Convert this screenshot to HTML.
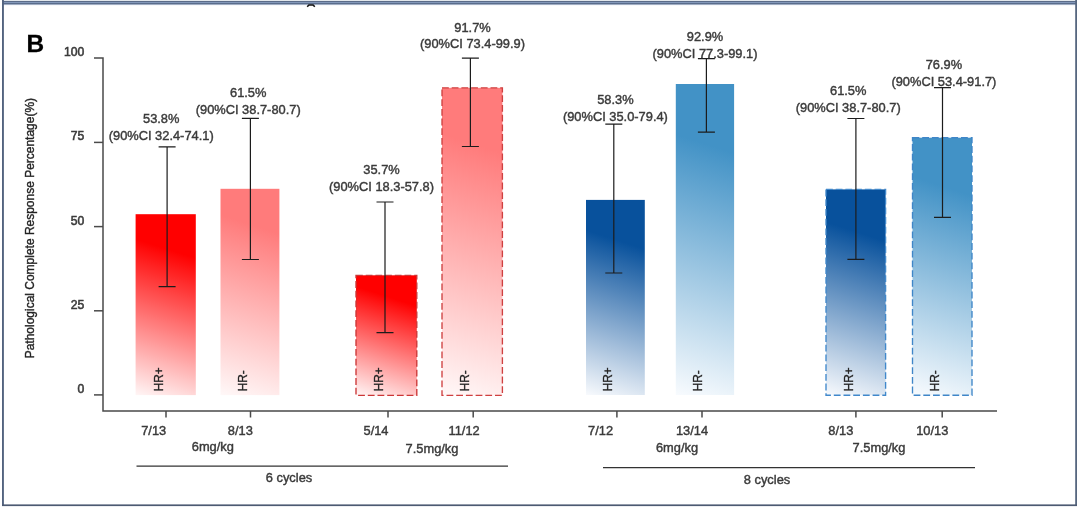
<!DOCTYPE html>
<html><head><meta charset="utf-8"><title>Chart</title>
<style>
html,body{margin:0;padding:0;background:#fff;}
body{width:1080px;height:512px;overflow:hidden;}
svg{display:block;font-family:"Liberation Sans",sans-serif;}
text{stroke:#3a3a3a;stroke-width:0.42px;paint-order:stroke;}
</style></head><body>
<svg width="1080" height="512" viewBox="0 0 1080 512">
<defs><linearGradient id="g0" gradientUnits="userSpaceOnUse" x1="195.16" y1="213.99" x2="136.24" y2="395.31"><stop offset="0" stop-color="#ff0000"/><stop offset="0.22" stop-color="#ff0000"/><stop offset="1" stop-color="#fff6f6"/></linearGradient><linearGradient id="g1" gradientUnits="userSpaceOnUse" x1="283.08" y1="189.99" x2="216.82" y2="393.91"><stop offset="0" stop-color="#ff7b7b"/><stop offset="0.2" stop-color="#ff7b7b"/><stop offset="1" stop-color="#fff8f8"/></linearGradient><linearGradient id="g2" gradientUnits="userSpaceOnUse" x1="406.95" y1="272.10" x2="365.85" y2="398.60"><stop offset="0" stop-color="#ff0000"/><stop offset="0.22" stop-color="#ff0000"/><stop offset="1" stop-color="#fff6f6"/></linearGradient><linearGradient id="g3" gradientUnits="userSpaceOnUse" x1="520.28" y1="93.61" x2="424.12" y2="389.59"><stop offset="0" stop-color="#ff7b7b"/><stop offset="0.2" stop-color="#ff7b7b"/><stop offset="1" stop-color="#fff8f8"/></linearGradient><linearGradient id="g4" gradientUnits="userSpaceOnUse" x1="646.88" y1="200.57" x2="583.92" y2="394.33"><stop offset="0" stop-color="#08519c"/><stop offset="0.23" stop-color="#08519c"/><stop offset="1" stop-color="#f8fafd"/></linearGradient><linearGradient id="g5" gradientUnits="userSpaceOnUse" x1="753.43" y1="90.28" x2="656.47" y2="388.72"><stop offset="0" stop-color="#4292c6"/><stop offset="0.21" stop-color="#4292c6"/><stop offset="1" stop-color="#f8fbfe"/></linearGradient><linearGradient id="g6" gradientUnits="userSpaceOnUse" x1="888.89" y1="190.47" x2="822.71" y2="394.13"><stop offset="0" stop-color="#08519c"/><stop offset="0.23" stop-color="#08519c"/><stop offset="1" stop-color="#f8fafd"/></linearGradient><linearGradient id="g7" gradientUnits="userSpaceOnUse" x1="982.93" y1="141.25" x2="901.57" y2="391.65"><stop offset="0" stop-color="#4292c6"/><stop offset="0.21" stop-color="#4292c6"/><stop offset="1" stop-color="#f8fbfe"/></linearGradient><filter id="soft" x="0" y="0" width="1080" height="512" filterUnits="userSpaceOnUse" color-interpolation-filters="sRGB"><feGaussianBlur stdDeviation="0.45"/></filter></defs>
<rect width="1080" height="512" fill="#ffffff"/>

<rect x="2" y="0.9" width="1075" height="3.7" fill="#8398ba"/>
<rect x="2" y="0.9" width="1075" height="1.1" fill="#5b6c89"/>
<rect x="2" y="3.0" width="1075" height="1.5" fill="#5a6d8c"/>
<rect x="2" y="4.5" width="1075" height="0.6" fill="#b9c4d6"/>
<rect x="2.0" y="0" width="1.9" height="506" fill="#53637f"/>
<rect x="1075.2" y="0" width="1.8" height="506" fill="#56667f"/>
<rect x="2.0" y="504.4" width="1075" height="1.7" fill="#4c5a72"/>
<path d="M307.2 6.7 L308.8 5.1 H313.2 L314.8 6.7" stroke="#111" stroke-width="1.5" fill="none" stroke-linejoin="round"/>

<g filter="url(#soft)">
<rect x="135.60" y="214.20" width="60.20" height="180.90" fill="url(#g0)"/><rect x="220.50" y="188.80" width="58.90" height="206.30" fill="url(#g1)"/><rect x="356.00" y="275.30" width="60.80" height="120.10" fill="url(#g2)" stroke="#cc3636" stroke-width="1.35" stroke-dasharray="6.8 2.9"/><rect x="442.00" y="87.80" width="60.40" height="307.60" fill="url(#g3)" stroke="#cf4040" stroke-width="1.35" stroke-dasharray="6.8 2.9"/><rect x="586.00" y="199.90" width="58.80" height="195.10" fill="url(#g4)"/><rect x="675.80" y="84.00" width="58.30" height="311.00" fill="url(#g5)"/><rect x="826.00" y="189.40" width="59.60" height="205.80" fill="url(#g6)" stroke="#4088cb" stroke-width="1.35" stroke-dasharray="6.8 2.9"/><rect x="912.50" y="137.70" width="59.50" height="257.50" fill="url(#g7)" stroke="#3f86c8" stroke-width="1.35" stroke-dasharray="6.8 2.9"/><path d="M158.60 146.90H175.60M167.10 146.90V286.70M158.60 286.70H175.60" stroke="#1c1c1c" stroke-width="1.2" fill="none"/><path d="M241.90 118.40H258.90M250.40 118.40V259.50M241.90 259.50H258.90" stroke="#1c1c1c" stroke-width="1.2" fill="none"/><path d="M376.50 202.00H393.50M385.00 202.00V332.70M376.50 332.70H393.50" stroke="#1c1c1c" stroke-width="1.2" fill="none"/><path d="M461.90 58.10H478.90M470.40 58.10V146.50M461.90 146.50H478.90" stroke="#1c1c1c" stroke-width="1.2" fill="none"/><path d="M605.30 124.20H622.30M613.80 124.20V273.00M605.30 273.00H622.30" stroke="#1c1c1c" stroke-width="1.2" fill="none"/><path d="M697.90 58.70H714.90M706.40 58.70V132.20M697.90 132.20H714.90" stroke="#1c1c1c" stroke-width="1.2" fill="none"/><path d="M847.40 118.50H864.40M855.90 118.50V259.30M847.40 259.30H864.40" stroke="#1c1c1c" stroke-width="1.2" fill="none"/><path d="M934.00 87.70H951.00M942.50 87.70V217.30M934.00 217.30H951.00" stroke="#1c1c1c" stroke-width="1.2" fill="none"/><text transform="translate(162.70,391.3) rotate(-90)" font-size="11.9" fill="#222" style="stroke-width:0.35px">HR+</text><text transform="translate(246.95,391.3) rotate(-90)" font-size="11.9" fill="#222" style="stroke-width:0.35px">HR-</text><text transform="translate(383.40,391.3) rotate(-90)" font-size="11.9" fill="#222" style="stroke-width:0.35px">HR+</text><text transform="translate(469.20,391.3) rotate(-90)" font-size="11.9" fill="#222" style="stroke-width:0.35px">HR-</text><text transform="translate(612.40,391.3) rotate(-90)" font-size="11.9" fill="#222" style="stroke-width:0.35px">HR+</text><text transform="translate(701.95,391.3) rotate(-90)" font-size="11.9" fill="#222" style="stroke-width:0.35px">HR-</text><text transform="translate(852.80,391.3) rotate(-90)" font-size="11.9" fill="#222" style="stroke-width:0.35px">HR+</text><text transform="translate(939.25,391.3) rotate(-90)" font-size="11.9" fill="#222" style="stroke-width:0.35px">HR-</text><text x="161.20" y="122.80" text-anchor="middle" font-size="12.85" fill="#3a3a3a">53.8%</text><text x="161.20" y="139.70" text-anchor="middle" font-size="12.85" fill="#3a3a3a">(90%CI 32.4-74.1)</text><text x="248.20" y="96.70" text-anchor="middle" font-size="12.85" fill="#3a3a3a">61.5%</text><text x="248.20" y="113.70" text-anchor="middle" font-size="12.85" fill="#3a3a3a">(90%CI 38.7-80.7)</text><text x="381.50" y="174.40" text-anchor="middle" font-size="12.85" fill="#3a3a3a">35.7%</text><text x="381.50" y="191.40" text-anchor="middle" font-size="12.85" fill="#3a3a3a">(90%CI 18.3-57.8)</text><text x="472.50" y="31.60" text-anchor="middle" font-size="12.85" fill="#3a3a3a">91.7%</text><text x="472.50" y="48.40" text-anchor="middle" font-size="12.85" fill="#3a3a3a">(90%CI 73.4-99.9)</text><text x="615.40" y="103.80" text-anchor="middle" font-size="12.85" fill="#3a3a3a">58.3%</text><text x="615.40" y="120.70" text-anchor="middle" font-size="12.85" fill="#3a3a3a">(90%CI 35.0-79.4)</text><text x="705.00" y="41.10" text-anchor="middle" font-size="12.85" fill="#3a3a3a">92.9%</text><text x="705.00" y="58.30" text-anchor="middle" font-size="12.85" fill="#3a3a3a">(90%CI 77.3-99.1)</text><text x="848.20" y="95.40" text-anchor="middle" font-size="12.85" fill="#3a3a3a">61.5%</text><text x="848.20" y="112.40" text-anchor="middle" font-size="12.85" fill="#3a3a3a">(90%CI 38.7-80.7)</text><text x="943.90" y="69.40" text-anchor="middle" font-size="12.85" fill="#3a3a3a">76.9%</text><text x="943.90" y="86.40" text-anchor="middle" font-size="12.85" fill="#3a3a3a">(90%CI 53.4-91.7)</text>
<path d="M94 58H103V411H997" stroke="#4a4a4a" stroke-width="1.5" fill="none"/><path d="M94 142.4H103" stroke="#4a4a4a" stroke-width="1.5"/><path d="M94 226.6H103" stroke="#4a4a4a" stroke-width="1.5"/><path d="M94 310.8H103" stroke="#4a4a4a" stroke-width="1.5"/><path d="M94 394.9H103" stroke="#4a4a4a" stroke-width="1.5"/><path d="M166 411V417.5" stroke="#4a4a4a" stroke-width="1.5"/><path d="M250.5 411V417.5" stroke="#4a4a4a" stroke-width="1.5"/><path d="M388 411V417.5" stroke="#4a4a4a" stroke-width="1.5"/><path d="M473.2 411V417.5" stroke="#4a4a4a" stroke-width="1.5"/><path d="M616.9 411V417.5" stroke="#4a4a4a" stroke-width="1.5"/><path d="M702 411V417.5" stroke="#4a4a4a" stroke-width="1.5"/><path d="M855.9 411V417.5" stroke="#4a4a4a" stroke-width="1.5"/><path d="M942.2 411V417.5" stroke="#4a4a4a" stroke-width="1.5"/><text x="84.3" y="55.9" text-anchor="end" font-size="12.2" fill="#3a3a3a" style="stroke-width:0.55px">100</text><text x="84.3" y="140.3" text-anchor="end" font-size="12.2" fill="#3a3a3a" style="stroke-width:0.55px">75</text><text x="84.3" y="224.5" text-anchor="end" font-size="12.2" fill="#3a3a3a" style="stroke-width:0.55px">50</text><text x="84.3" y="308.7" text-anchor="end" font-size="12.2" fill="#3a3a3a" style="stroke-width:0.55px">25</text><text x="84.3" y="392.8" text-anchor="end" font-size="12.2" fill="#3a3a3a" style="stroke-width:0.55px">0</text><text x="153.7" y="434.5" text-anchor="middle" font-size="12.85" fill="#3a3a3a">7/13</text><text x="240.3" y="434.5" text-anchor="middle" font-size="12.85" fill="#3a3a3a">8/13</text><text x="376" y="434.5" text-anchor="middle" font-size="12.85" fill="#3a3a3a">5/14</text><text x="464.1" y="434.5" text-anchor="middle" font-size="12.85" fill="#3a3a3a">11/12</text><text x="600.6" y="434.5" text-anchor="middle" font-size="12.85" fill="#3a3a3a">7/12</text><text x="692" y="434.5" text-anchor="middle" font-size="12.85" fill="#3a3a3a">13/14</text><text x="840.8" y="434.5" text-anchor="middle" font-size="12.85" fill="#3a3a3a">8/13</text><text x="932.3" y="434.5" text-anchor="middle" font-size="12.85" fill="#3a3a3a">10/13</text><text x="212.8" y="451.3" text-anchor="middle" font-size="12.85" fill="#3a3a3a">6mg/kg</text><text x="432" y="452.5" text-anchor="middle" font-size="12.85" fill="#3a3a3a">7.5mg/kg</text><text x="677" y="451.9" text-anchor="middle" font-size="12.85" fill="#3a3a3a">6mg/kg</text><text x="879" y="451.9" text-anchor="middle" font-size="12.85" fill="#3a3a3a">7.5mg/kg</text><path d="M136.5 466.2H508" stroke="#333" stroke-width="1.3"/><path d="M603 467.6H975" stroke="#333" stroke-width="1.3"/><text x="289" y="481.7" text-anchor="middle" font-size="12.85" fill="#3a3a3a">6 cycles</text><text x="767" y="484" text-anchor="middle" font-size="12.85" fill="#3a3a3a">8 cycles</text><text transform="translate(34.0,358.3) rotate(-90) scale(0.93,1)" font-size="12.9" fill="#222">Pathological Complete Response Percentage(%)</text><text x="26.5" y="52.3" font-size="24.4" font-weight="bold" fill="#000" style="stroke:#000;stroke-width:0.3px">B</text>
</g>
</svg>
</body></html>
